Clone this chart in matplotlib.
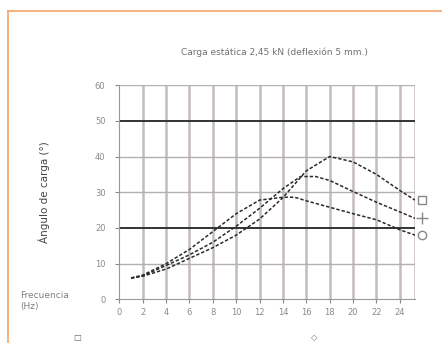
import matplotlib
matplotlib.use("Agg")
from matplotlib import pyplot as plt
from matplotlib.lines import Line2D

# frequency (Hz) and load angle (deg)
freq_sq = [1, 2, 4, 6, 8, 10, 12, 14, 16, 18, 20, 22, 24, 25.3]
angle_sq = [6, 6.5, 8.5, 11.5, 14.5, 18, 22.5, 28.5, 36, 40, 38.5, 35, 30.5, 27.8]

freq_plus = [1, 2, 4, 6, 8, 10, 12, 14, 15.5, 16.8, 18, 20, 22, 24, 25.3]
angle_plus = [6, 6.6, 9.5, 12.5, 16, 20.5, 25.5, 31, 34.4, 34.4, 33.3, 30.2, 27.2, 24.5, 22.7]

freq_circ = [1, 2, 4, 6, 8, 10, 12, 14, 15, 16, 18, 20, 22, 24, 25.3]
angle_circ = [6, 6.8, 10, 14, 19, 24, 27.8, 28.6, 28.6, 27.6, 25.8, 24, 22.3, 19.5, 18]

x_ticks = list(range(0, 25, 2))
y_ticks = [0, 10, 20, 30, 40, 50, 60]

title = "Carga estática 2,45 kN (deflexión 5 mm.)"
ylabel = "Ángulo de carga (°)"
xlabel = "Frecuencia\n(Hz)"

txt = "#8a8a8a"
fig = plt.figure(figsize=(4.42, 3.43), dpi=100)
ax = fig.add_axes([0.27, 0.127, 0.669, 0.625])

# orange frame of the page
fig.add_artist(Line2D([0.018, 1.0], [0.968, 0.968], color="#f4a46a", lw=1.2))
fig.add_artist(Line2D([0.018, 0.018], [0.0, 0.968], color="#f4a46a", lw=1.2))

for x in x_ticks[1:]:
    ax.axvline(x, color="#c4bcbc", lw=1.8, zorder=1)
ax.axvline(25.3, color="#c4bcbc", lw=1.8, zorder=1)
for y in [10, 30, 40, 60]:
    ax.axhline(y, color="#b5b0b0", lw=1.0, zorder=1)
for y in [20, 50]:
    ax.axhline(y, color="#333333", lw=1.4, zorder=2)

style = dict(color="#2a2a2a", lw=1.1, ls=(0, (2.2, 1.3)), zorder=3)
ax.plot(freq_sq, angle_sq, **style)
ax.plot(freq_plus, angle_plus, **style)
ax.plot(freq_circ, angle_circ, **style)

mk = dict(color="#888888", mfc="white", ms=6, mew=1, ls="none", clip_on=False, zorder=4)
ax.plot([25.9], [angle_sq[-1]], marker="s", **mk)
ax.plot([25.9], [angle_plus[-1]], marker="+", ms=9, color="#888888", ls="none", clip_on=False)
ax.plot([25.9], [angle_circ[-1]], marker="o", **mk)

ax.set_xlim(0, 25.3)
ax.set_ylim(0, 60)
ax.set_xticks(x_ticks)
ax.set_yticks(y_ticks)
ax.tick_params(labelsize=6, colors=txt, length=3, width=0.8)
ax.tick_params(axis="y", pad=7)
for s in ["top", "right"]:
    ax.spines[s].set_visible(False)
for s in ["left", "bottom"]:
    ax.spines[s].set_color("#999999")

ax.set_ylabel(ylabel, fontsize=7.5, color="#444444")
ax.yaxis.set_label_coords(-0.235, 0.5)
fig.text(0.62, 0.84, title, fontsize=6.5, color="#707070", ha="center")
fig.text(0.045, 0.10, xlabel, fontsize=6.5, color="#808080", ha="left", linespacing=1.3)
fig.text(0.175, 0.004, "□", fontsize=6, color="#666666", ha="center", va="bottom")
fig.text(0.712, 0.004, "◇", fontsize=6, color="#666666", ha="center", va="bottom")

fig.savefig("out.png", dpi=100)
